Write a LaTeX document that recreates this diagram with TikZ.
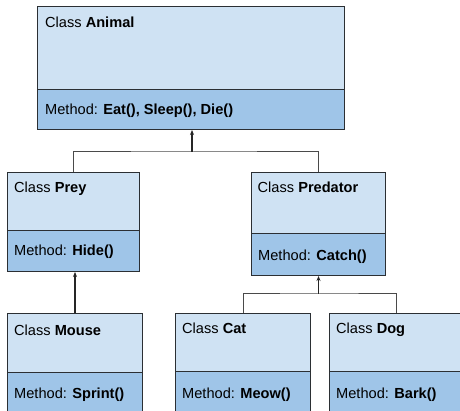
\documentclass[tikz,border=0pt]{standalone}
\usepackage{fontspec}
\setmainfont{Liberation Sans}
\usetikzlibrary{arrows.meta}
\definecolor{lightb}{HTML}{CFE2F3}
\definecolor{darkb}{HTML}{9FC5E8}
\definecolor{edgec}{HTML}{2B2F33}
\definecolor{linec}{HTML}{4A4A4A}
\tikzset{
  upper/.style={draw=edgec, line width=1pt, fill=lightb, rectangle, inner sep=0pt, anchor=north west},
  lower/.style={draw=edgec, line width=1pt, fill=darkb, rectangle, inner sep=0pt, anchor=north west},
  txt/.style={anchor=base west, inner sep=0pt, font=\fontsize{14.6}{17}\selectfont},
  conn/.style={draw=linec, line width=1pt},
  arr/.style={draw=black!85, line width=1.2pt, -{Stealth[length=5pt,width=4pt]}}
}
\begin{document}
\begin{tikzpicture}[x=1pt,y=-1pt]
\useasboundingbox (0,0) rectangle (460,411);
\clip (0,0) rectangle (460,411);
% Animal
\node[upper, minimum width=307pt, minimum height=83pt] (animal) at (37,6) {};
\node[lower, minimum width=307pt, minimum height=40pt] (animalm) at (37,89) {};
\node[txt] (animalt) at (45,28) {Class \textbf{Animal}};
\node[txt] (animalmt) at (45,114.5) {Method: \textbf{Eat(), Sleep(), Die()}};
% Prey
\node[upper, minimum width=132pt, minimum height=58pt] (prey) at (7,172) {};
\node[lower, minimum width=132pt, minimum height=41pt] (preym) at (7,230) {};
\node[txt] (preyt) at (14,193) {Class \textbf{Prey}};
\node[txt] (preymt) at (14,256) {Method: \textbf{Hide()}};
% Predator
\node[upper, minimum width=134pt, minimum height=61pt] (pred) at (251,172) {};
\node[lower, minimum width=134pt, minimum height=42pt] (predm) at (251,233) {};
\node[txt] (predt) at (257.5,193) {Class \textbf{Predator}};
\node[txt] (predmt) at (258,261) {Method: \textbf{Catch()}};
% Mouse
\node[upper, minimum width=135pt, minimum height=59pt] (mouse) at (7,313) {};
\node[lower, minimum width=135pt, minimum height=42pt] (mousem) at (7,372) {};
\node[txt] (mouset) at (14,335) {Class \textbf{Mouse}};
\node[txt] (mousemt) at (14,398) {Method: \textbf{Sprint()}};
% Cat
\node[upper, minimum width=135pt, minimum height=58pt] (cat) at (175,313) {};
\node[lower, minimum width=135pt, minimum height=43pt] (catm) at (175,371) {};
\node[txt] (catt) at (182,334) {Class \textbf{Cat}};
\node[txt] (catmt) at (182,398) {Method: \textbf{Meow()}};
% Dog
\node[upper, minimum width=134pt, minimum height=58pt] (dog) at (329,313) {};
\node[lower, minimum width=134pt, minimum height=43pt] (dogm) at (329,371) {};
\node[txt] (dogt) at (336,334) {Class \textbf{Dog}};
\node[txt] (dogmt) at (336,398) {Method: \textbf{Bark()}};
% connectors
\coordinate (jA) at (192,152);
\coordinate (jP) at (pred.north |- 0,294);
\draw[conn] (prey.north) |- (jA) -| (pred.north);
\draw[arr] (jA) -- (jA |- animalm.south);
\draw[arr] (mouse.north) -- (mouse.north |- preym.south);
\draw[conn] (cat.north) |- (jP) -| (dog.north);
\draw[arr] (jP) -- (predm.south);
\end{tikzpicture}
\end{document}
